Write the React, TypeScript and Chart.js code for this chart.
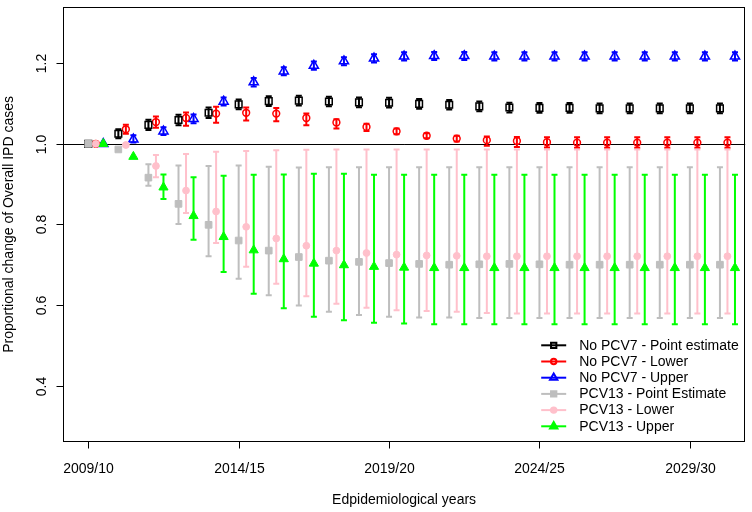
import React, { useEffect, useRef } from 'react';
import { Chart, registerables } from 'chart.js';
import { drawPoint } from 'chart.js/helpers';

Chart.register(...registerables);

// ---------- data ----------
const seasons = [
  '2009/10', '2010/11', '2011/12', '2012/13', '2013/14', '2014/15', '2015/16', '2016/17',
  '2017/18', '2018/19', '2019/20', '2020/21', '2021/22', '2022/23', '2023/24', '2024/25',
  '2025/26', '2026/27', '2027/28', '2028/29', '2029/30', '2030/31',
];
const tickSeasons = ['2009/10', '2014/15', '2019/20', '2024/25', '2029/30'];
const yTicks = [0.4, 0.6, 0.8, 1.0, 1.2];
const yTickLabels = ['0.4', '0.6', '0.8', '1.0', '1.2'];
const referenceValue = 1.0;

const xTitle = 'Edpidemiological years';
const yTitle = 'Proportional change of Overall IPD cases';

// No PCV7 - Point estimate
const noPcv7Est = [1.000, 1.025, 1.047, 1.059, 1.077, 1.098, 1.106, 1.107, 1.105, 1.103, 1.102, 1.099, 1.097, 1.093, 1.090, 1.089, 1.089, 1.088, 1.088, 1.088, 1.088, 1.088];
const noPcv7EstLo = [1.000, 1.014, 1.034, 1.046, 1.064, 1.086, 1.094, 1.095, 1.093, 1.091, 1.090, 1.087, 1.085, 1.081, 1.078, 1.077, 1.077, 1.076, 1.076, 1.076, 1.076, 1.076];
const noPcv7EstHi = [1.000, 1.036, 1.060, 1.072, 1.090, 1.110, 1.118, 1.119, 1.117, 1.115, 1.114, 1.111, 1.109, 1.105, 1.102, 1.101, 1.101, 1.100, 1.100, 1.100, 1.100, 1.100];

// No PCV7 - Lower
const noPcv7Low = [1.000, 1.036, 1.054, 1.064, 1.075, 1.077, 1.075, 1.064, 1.053, 1.042, 1.031, 1.020, 1.013, 1.009, 1.007, 1.004, 1.003, 1.003, 1.003, 1.003, 1.003, 1.003];
const noPcv7LowLo = [1.000, 1.025, 1.040, 1.045, 1.052, 1.058, 1.056, 1.046, 1.038, 1.032, 1.024, 1.014, 1.006, 0.995, 0.992, 0.991, 0.990, 0.990, 0.990, 0.990, 0.990, 0.990];
const noPcv7LowHi = [1.000, 1.047, 1.068, 1.078, 1.092, 1.090, 1.089, 1.075, 1.061, 1.050, 1.038, 1.026, 1.020, 1.018, 1.017, 1.016, 1.016, 1.016, 1.016, 1.016, 1.016, 1.016];

// No PCV7 - Upper
const noPcv7High = [1.000, 1.011, 1.031, 1.062, 1.105, 1.153, 1.180, 1.194, 1.205, 1.212, 1.217, 1.218, 1.218, 1.217, 1.217, 1.217, 1.217, 1.217, 1.217, 1.217, 1.217, 1.217];
const noPcv7HighLo = [1.000, 1.003, 1.022, 1.051, 1.095, 1.142, 1.170, 1.184, 1.195, 1.202, 1.207, 1.208, 1.208, 1.207, 1.207, 1.207, 1.207, 1.207, 1.207, 1.207, 1.207, 1.207];
const noPcv7HighHi = [1.000, 1.021, 1.041, 1.073, 1.115, 1.163, 1.190, 1.204, 1.215, 1.222, 1.227, 1.228, 1.228, 1.227, 1.227, 1.227, 1.227, 1.227, 1.227, 1.227, 1.227, 1.227];

// PCV13 - Point Estimate
const pcv13Est = [1.000, 0.986, 0.916, 0.851, 0.799, 0.760, 0.735, 0.719, 0.710, 0.707, 0.704, 0.702, 0.700, 0.701, 0.702, 0.701, 0.700, 0.700, 0.700, 0.700, 0.700, 0.700];
const pcv13EstLo = [1.000, 0.986, 0.896, 0.801, 0.721, 0.665, 0.624, 0.599, 0.583, 0.575, 0.571, 0.569, 0.569, 0.568, 0.568, 0.568, 0.568, 0.568, 0.568, 0.568, 0.568, 0.568];
const pcv13EstHi = [1.000, 0.986, 0.949, 0.946, 0.945, 0.946, 0.943, 0.941, 0.942, 0.942, 0.942, 0.942, 0.942, 0.942, 0.942, 0.942, 0.942, 0.942, 0.942, 0.942, 0.942, 0.942];

// PCV13 - Lower
const pcv13Low = [1.000, 0.997, 0.945, 0.884, 0.832, 0.794, 0.765, 0.747, 0.735, 0.729, 0.725, 0.723, 0.722, 0.721, 0.721, 0.721, 0.721, 0.721, 0.721, 0.721, 0.721, 0.721];
const pcv13LowLo = [1.000, 0.997, 0.917, 0.828, 0.754, 0.695, 0.653, 0.622, 0.603, 0.593, 0.587, 0.585, 0.583, 0.580, 0.579, 0.579, 0.579, 0.579, 0.579, 0.579, 0.579, 0.579];
const pcv13LowHi = [1.000, 0.997, 0.972, 0.975, 0.980, 0.982, 0.984, 0.985, 0.986, 0.986, 0.986, 0.986, 0.986, 0.986, 0.986, 0.986, 0.986, 0.986, 0.986, 0.986, 0.986, 0.986];

// PCV13 - Upper
const pcv13High = [1.000, 0.968, 0.892, 0.821, 0.769, 0.736, 0.714, 0.703, 0.699, 0.695, 0.693, 0.692, 0.692, 0.692, 0.692, 0.692, 0.692, 0.692, 0.692, 0.692, 0.692, 0.692];
const pcv13HighLo = [1.000, 0.968, 0.863, 0.762, 0.682, 0.628, 0.592, 0.571, 0.562, 0.556, 0.554, 0.552, 0.552, 0.552, 0.552, 0.552, 0.552, 0.552, 0.552, 0.552, 0.552, 0.552];
const pcv13HighHi = [1.000, 0.968, 0.924, 0.917, 0.921, 0.923, 0.924, 0.926, 0.926, 0.923, 0.923, 0.923, 0.923, 0.923, 0.923, 0.923, 0.923, 0.923, 0.923, 0.923, 0.923, 0.923];

// ---------- styling ----------
const FONT = '"Liberation Sans", Arial, Helvetica, sans-serif';
const FONT_SIZE = 14;

type SeriesDef = {
  label: string; values: number[]; lo: number[]; hi: number[];
  color: string; style: string; filled: boolean; radius: number; offset: number; order: number;
};

const series: SeriesDef[] = [
  { label: 'No PCV7 - Point estimate', values: noPcv7Est, lo: noPcv7EstLo, hi: noPcv7EstHi, color: '#000000', style: 'rect', filled: false, radius: 4.7, offset: 0, order: 2 },
  { label: 'No PCV7 - Lower', values: noPcv7Low, lo: noPcv7LowLo, hi: noPcv7LowHi, color: '#FF0000', style: 'circle', filled: false, radius: 3.4, offset: 0.25, order: 2 },
  { label: 'No PCV7 - Upper', values: noPcv7High, lo: noPcv7HighLo, hi: noPcv7HighHi, color: '#0000FF', style: 'triangle', filled: false, radius: 5.3, offset: 0.5, order: 2 },
  { label: 'PCV13 - Point Estimate', values: pcv13Est, lo: pcv13EstLo, hi: pcv13EstHi, color: '#BEBEBE', style: 'rect', filled: true, radius: 4.7, offset: 0, order: 1 },
  { label: 'PCV13 - Lower', values: pcv13Low, lo: pcv13LowLo, hi: pcv13LowHi, color: '#FFC0CB', style: 'circle', filled: true, radius: 3.4, offset: 0.25, order: 1 },
  { label: 'PCV13 - Upper', values: pcv13High, lo: pcv13HighLo, hi: pcv13HighHi, color: '#00FF00', style: 'triangle', filled: true, radius: 5.3, offset: 0.5, order: 1 },
];

const CAP = 3;

const rPlotPlugin = {
  id: 'rPlot',
  beforeDatasetsDraw(chart: any) {
    const { ctx, chartArea: ca, scales } = chart;
    const ys = scales.y;
    ctx.save();
    // reference line
    const yr = Math.round(ys.getPixelForValue(referenceValue)) + 0.5;
    ctx.strokeStyle = '#000'; ctx.lineWidth = 1;
    ctx.beginPath(); ctx.moveTo(ca.left, yr); ctx.lineTo(ca.right, yr); ctx.stroke();
    // error bars
    chart.data.datasets.forEach((ds: any, di: number) => {
      const meta = chart.getDatasetMeta(di);
      ctx.strokeStyle = ds.borderColor;
      ctx.lineWidth = 2;
      ctx.lineCap = 'butt';
      meta.data.forEach((pt: any, i: number) => {
        const lo = ds.errLo[i]; const hi = ds.errHi[i];
        if (Math.abs(hi - lo) < 1e-9) return;
        const x = pt.x;
        const yl = ys.getPixelForValue(lo); const yh = ys.getPixelForValue(hi);
        ctx.beginPath();
        ctx.moveTo(x, yl); ctx.lineTo(x, yh);
        ctx.moveTo(x - CAP, yl); ctx.lineTo(x + CAP, yl);
        ctx.moveTo(x - CAP, yh); ctx.lineTo(x + CAP, yh);
        ctx.stroke();
      });
    });
    ctx.restore();
  },
  afterDraw(chart: any) {
    const { ctx, chartArea: ca, scales } = chart;
    const xs = scales.x; const ys = scales.y;
    ctx.save();
    ctx.strokeStyle = '#000'; ctx.lineWidth = 1; ctx.fillStyle = '#000';
    // box
    ctx.strokeRect(Math.round(ca.left) + 0.5, Math.round(ca.top) + 0.5, Math.round(ca.right - ca.left) - 1, Math.round(ca.bottom - ca.top) - 1);
    const bottom = Math.round(ca.bottom) - 0.5;
    const left = Math.round(ca.left) + 0.5;
    ctx.font = `${FONT_SIZE}px ${FONT}`;
    // x ticks
    ctx.textAlign = 'center'; ctx.textBaseline = 'alphabetic';
    tickSeasons.forEach((lab) => {
      const xv = seasons.indexOf(lab);
      const px = Math.round(xs.getPixelForValue(xv)) + 0.5;
      ctx.beginPath(); ctx.moveTo(px, bottom); ctx.lineTo(px, bottom + 7); ctx.stroke();
      ctx.fillText(lab, px, bottom + 31);
    });
    // y ticks
    yTicks.forEach((v, i) => {
      const py = Math.round(ys.getPixelForValue(v)) + 0.5;
      ctx.beginPath(); ctx.moveTo(left, py); ctx.lineTo(left - 7, py); ctx.stroke();
      ctx.save();
      ctx.translate(left - 18, py);
      ctx.rotate(-Math.PI / 2);
      ctx.textAlign = 'center'; ctx.textBaseline = 'alphabetic';
      ctx.fillText(yTickLabels[i], 0, 0);
      ctx.restore();
    });
    // titles
    ctx.textAlign = 'center'; ctx.textBaseline = 'alphabetic';
    ctx.fillText(xTitle, (ca.left + ca.right) / 2, bottom + 62);
    ctx.save();
    ctx.translate(12.5, (ca.top + ca.bottom) / 2);
    ctx.rotate(-Math.PI / 2);
    ctx.fillText(yTitle, 0, 0);
    ctx.restore();
    // legend
    const rowH = 16.2;
    const firstY = ca.bottom - 96.7;
    const lx1 = ca.right - 204; const lx2 = ca.right - 179; const tx = ca.right - 166;
    ctx.textAlign = 'left'; ctx.textBaseline = 'middle';
    chart.data.datasets.forEach((ds: any, i: number) => {
      const yy = firstY + i * rowH;
      ctx.strokeStyle = ds.borderColor; ctx.lineWidth = 2;
      ctx.beginPath(); ctx.moveTo(lx1, yy); ctx.lineTo(lx2, yy); ctx.stroke();
      ctx.fillStyle = ds.backgroundColor;
      drawPoint(ctx, {
        pointStyle: ds.pointStyle, rotation: 0, radius: ds.pointRadius * 0.8,
        borderWidth: ds.pointBorderWidth,
      } as any, (lx1 + lx2) / 2, yy);
      ctx.fillStyle = '#000';
      ctx.fillText(ds.label, tx, yy + 0.5);
    });
    ctx.restore();
  },
};

export default function App() {
  const canvasRef = useRef<HTMLCanvasElement | null>(null);

  useEffect(() => {
    const canvas = canvasRef.current;
    if (!canvas) return;
    const datasets = series.map((s) => ({
      label: s.label,
      data: s.values.map((v, i) => ({ x: i + s.offset, y: v })),
      errLo: s.lo,
      errHi: s.hi,
      order: s.order,
      showLine: false,
      pointStyle: s.style,
      pointRadius: s.radius,
      pointHoverRadius: s.radius,
      pointBorderWidth: s.filled ? 1 : 1.5,
      borderColor: s.color,
      backgroundColor: s.filled ? s.color : 'rgba(0,0,0,0)',
      pointBackgroundColor: s.filled ? s.color : 'rgba(0,0,0,0)',
      pointBorderColor: s.color,
    }));
    const chart = new Chart(canvas, {
      type: 'scatter',
      data: { datasets } as any,
      options: {
        responsive: false,
        animation: false,
        events: [],
        layout: { padding: { left: 63, right: 3, top: 3, bottom: 70 } },
        scales: {
          x: { type: 'linear', display: false, min: -0.84, max: 21.84 },
          y: { type: 'linear', display: false, min: 0.26, max: 1.34 },
        },
        plugins: { legend: { display: false }, tooltip: { enabled: false }, title: { display: false } },
      },
      plugins: [rPlotPlugin],
    } as any);
    return () => chart.destroy();
  }, []);

  return (
    <div style={{ position: 'fixed', left: 0, top: 0, width: 752, height: 512, background: '#fff' }}>
      <canvas ref={canvasRef} width={752} height={512} style={{ display: 'block' }} />
    </div>
  );
}
